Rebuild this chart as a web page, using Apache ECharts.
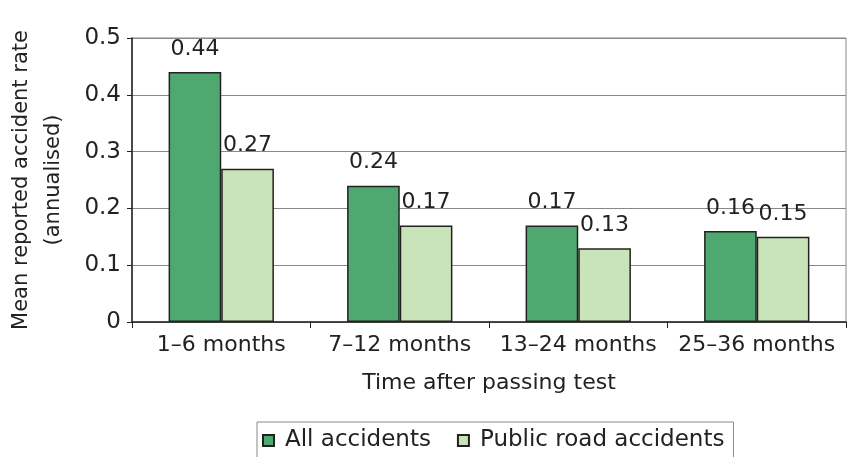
<!DOCTYPE html>
<html>
<head>
<meta charset="utf-8">
<script src="https://cdn.jsdelivr.net/npm/echarts@6/dist/echarts.min.js"></script>
<style>
  html, body { margin: 0; padding: 0; background: #fff; }
  #chart { width: 850px; height: 457px; }
</style>
</head>
<body>
<div id="chart"></div>
<script>
// data
const categories = ['1–6 months', '7–12 months', '13–24 months', '25–36 months'];
const allAccidents = [0.44, 0.24, 0.17, 0.16];
const publicRoad = [0.27, 0.17, 0.13, 0.15];
const yTicks = [0, 0.1, 0.2, 0.3, 0.4, 0.5];

const font = 'DejaVu Sans, Liberation Sans, sans-serif';
const textColor = '#222';

const myChart = echarts.init(document.getElementById('chart'));

const barLabel = {
  show: true,
  position: 'top',
  distance: 12,
  color: textColor,
  fontFamily: font,
  fontSize: 22
};

const option = {
  animation: false,
  grid: {
    left: 132, right: 4, top: 38, bottom: 135,
    outerBoundsMode: 'none',
    containLabel: false,
    show: true, borderColor: '#888', borderWidth: 1
  },
  legend: {
    top: 422,
    left: 257,
    itemWidth: 11,
    itemHeight: 11,
    itemGap: 26,
    borderColor: '#888',
    borderWidth: 1,
    padding: [7, 9, 12, 5],
    textStyle: { color: textColor, fontFamily: font, fontSize: 23, padding: [0, 0, 0, 6] },
    data: [
      { name: 'All accidents', icon: 'rect' },
      { name: 'Public road accidents', icon: 'rect' }
    ]
  },
  xAxis: {
    type: 'category',
    data: categories,
    name: 'Time after passing test',
    nameLocation: 'middle',
    nameGap: 50,
    nameTextStyle: { color: textColor, fontFamily: font, fontSize: 22 },
    axisLine: { lineStyle: { color: '#222', width: 1.5 } },
    axisTick: { show: true, length: 6, lineStyle: { color: '#222' } },
    axisLabel: {
      interval: 0, hideOverlap: false,
      color: textColor, fontFamily: font, fontSize: 22, margin: 12
    }
  },
  yAxis: {
    type: 'value',
    min: yTicks[0],
    max: yTicks[yTicks.length - 1],
    interval: 0.1,
    name: 'Mean reported accident rate\n(annualised)',
    nameLocation: 'middle',
    nameGap: 62,
    nameTextStyle: { color: textColor, fontFamily: font, fontSize: 21, lineHeight: 32 },
    axisLine: { show: true, lineStyle: { color: '#222', width: 1.5 } },
    axisTick: { show: true, length: 5, lineStyle: { color: '#222' } },
    axisLabel: { color: textColor, fontFamily: font, fontSize: 23, margin: 11 },
    splitLine: { lineStyle: { color: '#888', width: 1 } }
  },
  series: [
    {
      name: 'All accidents',
      type: 'bar',
      data: allAccidents,
      barGap: '0%',
      barCategoryGap: '41%',
      itemStyle: { color: '#4ea86f', borderColor: '#222', borderWidth: 1.5 },
      label: barLabel
    },
    {
      name: 'Public road accidents',
      type: 'bar',
      data: publicRoad,
      itemStyle: { color: '#c9e4b9', borderColor: '#222', borderWidth: 1.5 },
      label: barLabel
    }
  ]
};

myChart.setOption(option);
</script>
</body>
</html>
